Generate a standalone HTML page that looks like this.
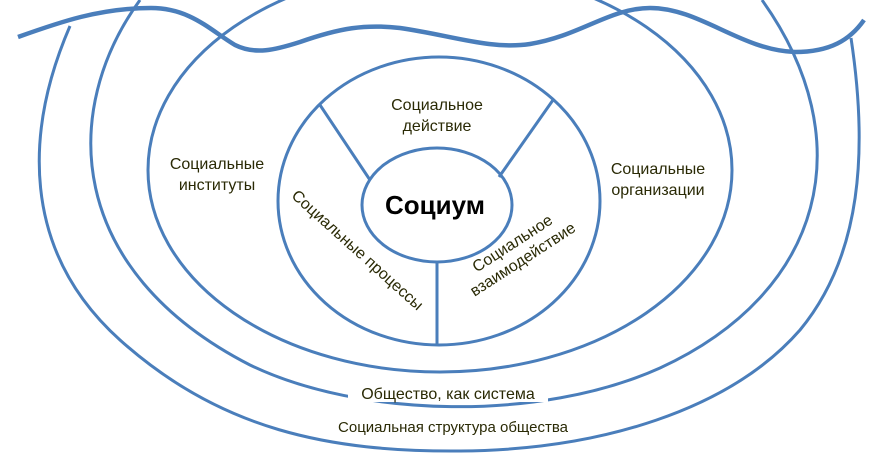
<!DOCTYPE html>
<html><head><meta charset="utf-8"><style>
html,body{margin:0;padding:0;background:#fff;}
svg{display:block;}
text{font-family:"Liberation Sans","DejaVu Sans",sans-serif;fill:#2a2a05;font-size:16px;}
</style></head><body>
<svg width="878" height="459" viewBox="0 0 878 459" xmlns="http://www.w3.org/2000/svg">
<g fill="none" stroke="#4a7ebb" stroke-width="3">
  <path d="M70 26 C 25 130, 20 250, 120 340 C 220 430, 330 452, 460 451 C 600 450, 730 410, 800 330 C 862 255, 868 150, 851 38"/>
  <path d="M140 0 C 60 110, 65 270, 250 365 C 360 418, 540 422, 660 368 C 825 292, 862 140, 762 0"/>
  <ellipse cx="440" cy="170" rx="292" ry="202"/>
  <ellipse cx="439" cy="201" rx="161" ry="144"/>
  <ellipse cx="437" cy="205" rx="75" ry="57"/>
  <line x1="320" y1="105" x2="370" y2="180"/>
  <line x1="553" y1="100" x2="499" y2="177"/>
  <line x1="437" y1="262" x2="437" y2="345"/>
</g>
<path d="M18 37 C 60 22, 100 8, 151 8 C 190 8, 210 30, 235 45 C 255 55, 275 50, 300 42 C 340 28, 365 24, 400 28 C 450 35, 490 50, 530 44 C 580 36, 610 8, 650 8 C 700 8, 740 50, 795 52 C 830 52, 850 40, 864 20" fill="none" stroke="#4a7ebb" stroke-width="4.5"/>
<rect x="348" y="381" width="200" height="21" fill="#fff"/>
<g text-anchor="middle">
  <text x="437" y="110">Социальное</text>
  <text x="437" y="131">действие</text>
  <text x="217" y="169">Социальные</text>
  <text x="217" y="190">институты</text>
  <text x="658" y="174">Социальные</text>
  <text x="658" y="195">организации</text>
  <text x="435" y="214" style="font-size:26px;font-weight:bold;fill:#000">Социум</text>
  <text x="448" y="399">Общество, как система</text>
  <text x="453" y="432" style="font-size:15px">Социальная структура общества</text>
  <text transform="translate(354,254) rotate(42)">Социальные процессы</text>
  <g transform="translate(518,252) rotate(-33)">
    <text x="0" y="-5">Социальное</text>
    <text x="0" y="14">взаимодействие</text>
  </g>
</g>
</svg>
</body></html>
